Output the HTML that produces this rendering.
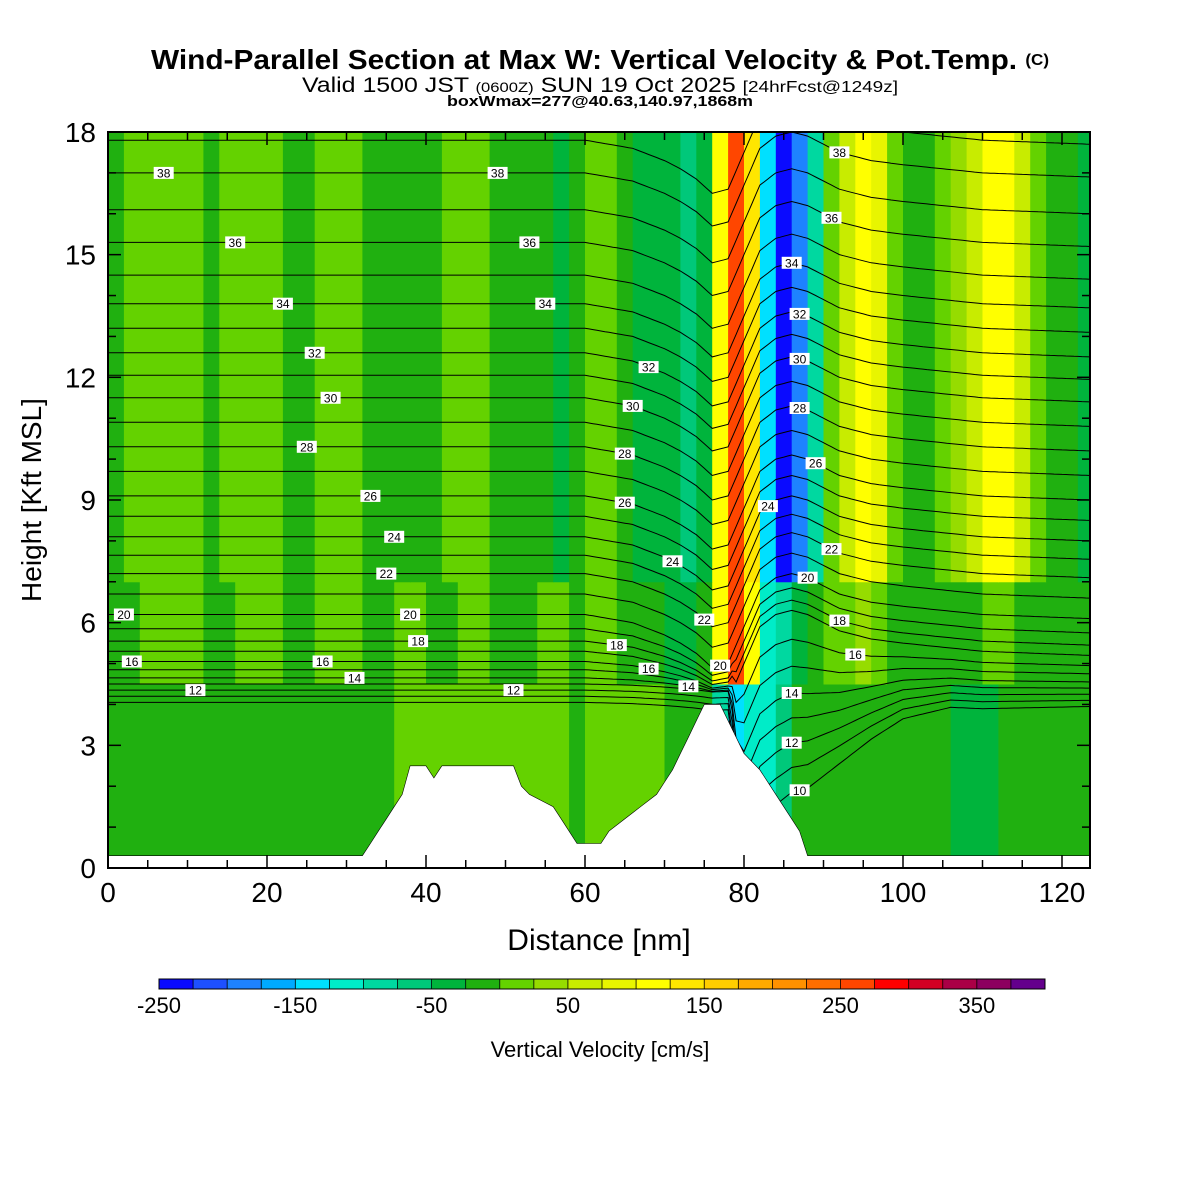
<!DOCTYPE html>
<html><head><meta charset="utf-8"><style>
html,body{margin:0;padding:0;background:#fff;}
svg{display:block;font-family:"Liberation Sans",sans-serif;}
</style></head><body>
<svg id="chart" width="1200" height="1200" viewBox="0 0 1200 1200">
<text x="600" y="69" text-anchor="middle" font-size="28" font-weight="bold" textLength="898" lengthAdjust="spacingAndGlyphs">Wind-Parallel Section at Max W: Vertical Velocity &amp; Pot.Temp. <tspan font-size="16" dy="-4">(C)</tspan></text>
<text x="600" y="92" text-anchor="middle" font-size="21" textLength="596" lengthAdjust="spacingAndGlyphs">Valid 1500 JST <tspan font-size="14">(0600Z)</tspan> SUN 19 Oct 2025 <tspan font-size="16">[24hrFcst@1249z]</tspan></text>
<text x="600" y="106" text-anchor="middle" font-size="15" font-weight="bold" textLength="306" lengthAdjust="spacingAndGlyphs">boxWmax=277@40.63,140.97,1868m</text>
<defs><clipPath id="plotclip"><rect x="108" y="132" width="982" height="736"/></clipPath></defs>
<g id="field" clip-path="url(#plotclip)"></g>
<g id="theta" clip-path="url(#plotclip)"></g>
<g id="terrain" clip-path="url(#plotclip)"></g>
<g id="labels" clip-path="url(#plotclip)"></g>
<rect x="108" y="132" width="982" height="736" fill="none" stroke="#000" stroke-width="2"/>
<g id="axes"></g>
<text x="599" y="950" text-anchor="middle" font-size="30">Distance [nm]</text>
<text transform="translate(41,500) rotate(-90)" text-anchor="middle" font-size="28">Height [Kft MSL]</text>
<g id="cbar"></g>
<text x="600" y="1057" text-anchor="middle" font-size="22">Vertical Velocity [cm/s]</text>
</svg>
<script>
const NS='http://www.w3.org/2000/svg';
// data
const levels=[-250,-225,-200,-175,-150,-125,-100,-75,-50,-25,0,25,50,75,100,125,150,175,200,225,250,275,300,325,350,375,400];
const levelColors=['#0a0aff','#1e50ff','#1e82ff','#00aaff','#00e0ff','#00ecc8','#00d8a0','#00c87a','#00b43c','#20b010','#64d200','#96dc00','#c8ec00','#e8f500','#ffff00','#ffe600','#ffcd00','#ffaa00','#ff9100','#ff6e00','#ff4600','#ff0000','#d20023','#aa0046','#8c005f','#64008c'];
const cbarTicks=[-250,-150,-50,50,150,250,350];
const colX=[0,2,4,6,8,10,12,14,16,18,20,22,24,26,28,30,32,34,36,38,40,42,44,46,48,50,52,54,56,58,60,62,64,66,68,70,72,74,76,78,80,82,84,86,88,90,92,94,96,98,100,102,104,106,108,110,112,114,116,118,120,122];
const wHigh=[-10,10,10,10,10,10,-10,10,10,10,10,-10,-10,10,10,10,-10,-10,-10,-10,-10,10,10,10,-10,-10,-10,-20,-30,-10,10,10,-10,-30,-30,-40,-55,-40,120,270,140,-140,-230,-200,-80,20,60,110,80,20,-10,-10,10,40,60,110,120,60,10,-10,-20,-40];
const wMid=[-10,-10,10,10,10,10,-10,-10,10,10,10,-10,-10,10,10,10,-10,-10,10,10,-10,-10,10,10,-10,-10,-10,10,10,-10,10,10,-10,-10,-20,-30,-30,-10,120,270,120,-120,-80,-40,-10,10,10,30,10,-10,-10,-10,-10,-20,-10,10,10,-10,-10,-10,-10,-20];
const wLow=[-10,-10,-10,-10,-10,-10,-10,-10,-10,-10,-10,-10,-10,-10,-10,-10,-10,-10,10,20,20,20,20,20,20,10,10,10,10,-10,10,10,10,10,10,-10,-10,-10,-80,-130,-120,-110,-60,-20,-10,-10,-10,-10,-10,-10,-10,-10,-10,-30,-40,-40,-10,-10,-10,-10,-10,-10];
const terrainX=[0,32,33,34,35,36,37,38,40,41,42,51,52,53,55,56,57,58,59,62,63,65,67,69,70,71,72,73,74,75,77,78,79,80,82,84,86,87,88,123.5];
const terrainH=[0.3,0.3,0.6,0.9,1.2,1.5,1.8,2.5,2.5,2.2,2.5,2.5,2.0,1.8,1.6,1.5,1.2,0.9,0.6,0.6,0.9,1.2,1.5,1.8,2.1,2.4,2.8,3.2,3.6,4.0,4.0,3.6,3.2,2.8,2.4,1.8,1.2,0.9,0.3,0.3];
const thetaLevels=[10,11,12,13,14,15,16,17,18,19,20,21,22,23,24,25,26,27,28,29,30,31,32,33,34,35,36,37,38,39];
const thetaBase=[4.05,4.2,4.35,4.5,4.65,4.85,5.05,5.3,5.55,5.85,6.2,6.7,7.2,7.65,8.1,8.6,9.1,9.7,10.3,10.9,11.5,12.05,12.6,13.2,13.8,14.5,15.3,16.1,17.0,17.8];
const dipX=[0,60,66,68,70,72,74,76,78,80,82,84,86,88,90,92,94,96,100,110,123.5];
const dipH=[0,0,-0.2,-0.35,-0.5,-0.7,-0.95,-1.3,-1.2,-0.3,0.6,0.9,1.0,0.9,0.7,0.5,0.4,0.3,0.2,0,-0.1];
const lowDipX=[0,78,80,84,88,92,96,100,106,123.5];
const lowDipH=[0,0,-3.5,-3.4,-3.0,-2,-1.2,-0.6,-0.2,0];
const labelX=[7,49,16,53,22,55,26,68,28,66,25,65,33,65,36,71,35,38,39,64,68,73,3,27,31,11,51,2,92,91,86,87,87,87,83,89,91,88,92,94,75,77,87,86,86];
const labelL=[38,38,36,36,34,34,32,32,30,30,28,28,26,26,24,24,22,20,18,18,16,14,16,16,14,12,12,20,38,36,34,32,30,28,24,26,22,20,18,16,22,20,10,12,14];

const X=v=>108+v*7.95, Y=h=>868-h*40.89;
function mk(tag,attrs,parent){const e=document.createElementNS(NS,tag);for(const k in attrs)e.setAttribute(k,attrs[k]);parent.appendChild(e);return e;}
function colorOf(w){for(let i=0;i<levelColors.length;i++){if(w<levels[i+1])return levelColors[i];}return levelColors[levelColors.length-1];}
function interp(xs,ys,x){if(x<=xs[0])return ys[0];for(let i=1;i<xs.length;i++){if(x<=xs[i]){const t=(x-xs[i-1])/(xs[i]-xs[i-1]);return ys[i-1]+t*(ys[i]-ys[i-1]);}}return ys[ys.length-1];}

// field
const field=document.getElementById('field');
const bands=[[wLow,0,4.5],[wMid,4.5,7],[wHigh,7,18.2]];
bands.forEach(([arr,h0,h1])=>{
  colX.forEach((cx,i)=>{
    const r=mk('rect',{x:X(cx),y:Y(h1),width:X(cx+2)-X(cx)+0.5,height:Y(h0)-Y(h1)+0.5,fill:colorOf(arr[i])},field);
    
    
  });
});
// theta
const theta=document.getElementById('theta');
function thetaH(idx,x){
  const L=thetaLevels[idx];
  let d=interp(dipX,dipH,x);
  if(x<79&&d<0){d*=Math.max(0.15,Math.min(1,(L-12)/8));}
  let h=thetaBase[idx]+d;
  if(L<17){h+=interp(lowDipX,lowDipH,x)*(17-L)/7;}
  return h;
}
thetaLevels.forEach((L,idx)=>{
  let d='';
  for(let x=0;x<=124;x+=0.5){d+=(x?'L':'M')+X(x).toFixed(1)+','+Y(thetaH(idx,x)).toFixed(1);}
  const p=mk('path',{d:d,fill:'none',stroke:'#000','stroke-width':1},theta);
  
  
});
// terrain
const terr=document.getElementById('terrain');
let td='M'+X(0)+','+Y(0);
terrainX.forEach((x,i)=>{td+='L'+X(x).toFixed(1)+','+Y(terrainH[i]).toFixed(1);});
td+='L'+X(123.5)+','+Y(0)+'Z';
const tp=mk('path',{d:td,fill:'#fff',stroke:'#000','stroke-width':0.6},terr);


// labels
const lab=document.getElementById('labels');
labelX.forEach((x,i)=>{
  const idx=thetaLevels.indexOf(labelL[i]);
  const cx=X(x), cy=Y(thetaH(idx,x));
  const g=mk('g',{transform:`translate(${cx.toFixed(1)},${cy.toFixed(1)})`},lab);
  
  
  mk('rect',{x:-10,y:-6,width:20,height:12,fill:'#fff'},g);
  const t=mk('text',{x:0,y:4.5,'text-anchor':'middle','font-size':12},g);
  t.textContent=labelL[i];
});
// axes
const ax=document.getElementById('axes');
for(let v=0;v<=120;v+=20){const t=mk('text',{x:X(v),y:902,'text-anchor':'middle','font-size':28},ax);t.textContent=v;}
for(let v=0;v<=123;v+=5){mk('line',{x1:X(v),x2:X(v),y1:868,y2:v%20===0?855:860,stroke:'#000','stroke-width':1.5},ax);mk('line',{x1:X(v),x2:X(v),y1:132,y2:v%20===0?145:140,stroke:'#000','stroke-width':1.5},ax);}
for(let v=0;v<=18;v+=3){const t=mk('text',{x:96,y:Y(v)+10,'text-anchor':'end','font-size':28},ax);t.textContent=v;}
for(let v=0;v<=18;v+=1){mk('line',{x1:108,x2:v%3===0?121:116,y1:Y(v),y2:Y(v),stroke:'#000','stroke-width':1.5},ax);mk('line',{x1:1090,x2:v%3===0?1077:1082,y1:Y(v),y2:Y(v),stroke:'#000','stroke-width':1.5},ax);}
// colorbar
const cb=document.getElementById('cbar');
const cbX=v=>159+(v+250)/650*886;
levelColors.forEach((c,i)=>{const r=mk('rect',{x:cbX(levels[i]),y:979,width:cbX(levels[i+1])-cbX(levels[i])+0.3,height:10,fill:c},cb);});
mk('rect',{x:159,y:979,width:886,height:10,fill:'none',stroke:'#000','stroke-width':1},cb);
levels.forEach(v=>mk('line',{x1:cbX(v),x2:cbX(v),y1:979,y2:989,stroke:'#000','stroke-width':0.8},cb));
cbarTicks.forEach(v=>{const t=mk('text',{x:cbX(v),y:1013,'text-anchor':'middle','font-size':22},cb);t.textContent=v;});
</script>
</body></html>
